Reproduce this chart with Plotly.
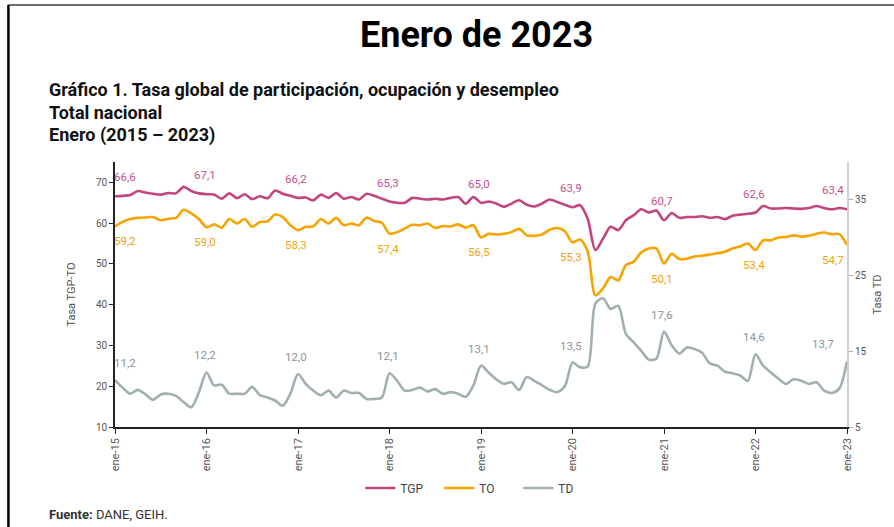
import plotly.graph_objects as go

# Tasa global de participación (TGP), ocupación (TO) y desempleo (TD), enero 2015 - enero 2023
tick_labels = ["ene-15", "ene-16", "ene-17", "ene-18", "ene-19",
               "ene-20", "ene-21", "ene-22", "ene-23"]

tgp = [66.6, 66.7, 66.9, 67.9, 67.5, 67.2, 67.0, 67.4, 67.3, 68.9, 67.9, 67.3,
       67.1, 67.0, 66.0, 67.3, 66.1, 67.1, 65.9, 66.6, 66.1, 68.0, 67.2, 66.7,
       66.2, 66.3, 65.6, 67.0, 66.2, 67.4, 66.0, 66.4, 65.8, 67.2, 66.7, 66.0,
       65.3, 65.0, 65.0, 66.2, 66.0, 65.8, 66.0, 65.8, 66.2, 66.4, 64.8, 66.4,
       65.0, 65.3, 64.8, 64.0, 64.8, 65.6, 64.5, 64.1, 64.8, 65.8, 65.2, 64.5,
       63.9, 64.4, 61.0, 53.4, 56.2, 59.1, 58.3, 60.7, 61.9, 63.4, 62.6, 63.1,
       60.7, 62.5, 61.3, 61.5, 61.5, 61.7, 61.3, 61.5, 61.0, 61.8, 62.1, 62.3,
       62.6, 64.2, 63.6, 63.6, 63.7, 63.6, 63.5, 63.7, 64.2, 63.7, 63.4, 63.7,
       63.4]

to = [59.2, 60.3, 61.0, 61.3, 61.4, 61.5, 60.7, 61.1, 61.3, 63.3, 62.4, 61.0,
      59.0, 59.7, 58.9, 61.0, 59.9, 61.0, 59.1, 60.3, 60.4, 62.1, 61.5, 59.5,
      58.3, 59.1, 59.2, 61.0, 59.9, 61.3, 59.5, 59.9, 59.5, 61.4, 60.5, 60.1,
      57.4, 57.8, 58.7, 59.6, 59.5, 59.9, 58.8, 59.3, 59.2, 59.7, 58.9, 59.5,
      56.5, 57.4, 57.2, 57.4, 57.8, 58.6, 57.0, 56.9, 57.2, 58.4, 58.8, 58.0,
      55.3, 56.0, 53.0, 42.3, 44.0, 46.8, 46.0, 49.7, 50.5, 52.8, 53.8, 53.8,
      50.1, 52.5, 51.2, 51.3, 51.8, 52.0, 52.3, 52.6, 53.0, 53.8, 54.3, 55.0,
      53.4, 55.8, 55.8, 56.5, 56.6, 57.0, 56.7, 56.9, 57.4, 57.7, 57.3, 57.3,
      54.7]

td = [11.2, 10.2, 9.4, 9.9, 9.3, 8.6, 9.3, 9.4, 9.1, 8.3, 7.6, 9.6,
      12.2, 10.5, 10.6, 9.4, 9.4, 9.4, 10.3, 9.2, 8.9, 8.5, 7.8, 9.4,
      12.0, 10.7, 9.8, 9.2, 9.8, 8.9, 9.8, 9.5, 9.5, 8.7, 8.7, 8.9,
      12.1, 11.1, 9.8, 9.9, 10.2, 9.7, 10.0, 9.4, 9.6, 9.4, 9.0, 10.5,
      13.1, 12.2, 11.3, 10.7, 10.9, 9.9, 11.6, 11.1, 10.5, 9.9, 9.6, 10.4,
      13.5, 12.9, 13.0, 21.3, 22.0, 20.6, 21.0, 17.3, 16.2, 15.1, 13.9, 14.0,
      17.6, 15.8, 14.7, 15.5, 15.3, 14.8, 13.4, 13.1, 12.3, 12.1, 11.8, 11.1,
      14.6, 13.1, 12.2, 11.4, 10.7, 11.3, 11.1, 10.7, 10.9, 9.8, 9.5, 10.1,
      13.7]

months = list(range(len(tgp)))
jan_idx = list(range(0, len(tgp), 12))

C_TGP = "#c2457f"
C_TO = "#f7a400"
C_TD = "#a0b1ac"
FONT = "Roboto, Arial, sans-serif"

fig = go.Figure()
for name, vals, color, axis in [("TGP", tgp, C_TGP, "y"),
                                ("TO", to, C_TO, "y"),
                                ("TD", td, C_TD, "y2")]:
    fig.add_trace(go.Scatter(
        x=months, y=vals, name=name, mode="lines", yaxis=axis,
        line=dict(color=color, width=2.6, shape="spline", smoothing=0.8),
    ))


def fmt(v):
    return f"{v:.1f}".replace(".", ",")


annotations = []
label_specs = [(tgp, "y", "#c4508a", "bottom", 10),
               (to, "y", "#f2a20c", "top", -6),
               (td, "y2", "#8b9599", "bottom", 8)]
for vals, yref, color, anchor, shift in label_specs:
    for k, i in enumerate(jan_idx):
        xs = 10 if k == 0 else (-14 if k == len(jan_idx) - 1 else -2)
        if vals is td and k == len(jan_idx) - 1:
            xs = -24
        annotations.append(dict(
            x=i, y=vals[i], xref="x", yref=yref, text=fmt(vals[i]),
            showarrow=False, yanchor=anchor, yshift=shift, xshift=xs,
            font=dict(family=FONT, size=11.5, color=color),
        ))

# page texts
annotations += [
    dict(x=0.494, y=1.479, xref="paper", yref="paper", text="<b>Enero de 2023</b>",
         showarrow=False, xanchor="center", yanchor="middle",
         font=dict(family=FONT, size=36, color="#000")),
    dict(x=-0.0925, y=1.2717, xref="paper", yref="paper",
         text="<b>Gráfico 1. Tasa global de participación, ocupación y desempleo</b>",
         showarrow=False, xanchor="left", yanchor="middle",
         font=dict(family=FONT, size=18, color="#111")),
    dict(x=-0.0925, y=1.185, xref="paper", yref="paper", text="<b>Total nacional</b>",
         showarrow=False, xanchor="left", yanchor="middle",
         font=dict(family=FONT, size=18, color="#111")),
    dict(x=-0.0925, y=1.1019, xref="paper", yref="paper", text="<b>Enero (2015 – 2023)</b>",
         showarrow=False, xanchor="left", yanchor="middle",
         font=dict(family=FONT, size=18, color="#111")),
    dict(x=-0.0925, y=-0.332, xref="paper", yref="paper",
         text="<b>Fuente:</b> DANE, GEIH.",
         showarrow=False, xanchor="left", yanchor="middle",
         font=dict(family=FONT, size=13, color="#333")),
]

fig.update_layout(
    width=894, height=527,
    margin=dict(l=115, r=44, t=162, b=100),
    paper_bgcolor="white", plot_bgcolor="white",
    font=dict(family=FONT, color="#555"),
    annotations=annotations,
    shapes=[
        dict(type="line", xref="paper", yref="paper", x0=-0.1456, x1=1.07,
             y0=1.5925, y1=1.5925, line=dict(color="#6e6e6e", width=2)),
        dict(type="line", xref="paper", yref="paper", x0=-0.1456, x1=-0.1456,
             y0=1.5925, y1=-0.4, line=dict(color="#000", width=2.5)),
    ],
    showlegend=True,
    legend=dict(orientation="h", x=0.497, y=-0.23, xanchor="center", yanchor="middle",
                font=dict(size=12, color="#444"), entrywidth=34, itemwidth=30),
    xaxis=dict(range=[0, len(tgp) - 1], tickvals=jan_idx, ticktext=tick_labels,
               tickangle=-90, showline=True, linecolor="#222", linewidth=1.5,
               ticks="outside", ticklen=5, tickcolor="#222", showgrid=False,
               zeroline=False, tickfont=dict(size=11, color="#555")),
    yaxis=dict(range=[10, 75], tickvals=[10, 20, 30, 40, 50, 60, 70],
               showline=True, linecolor="#222", linewidth=1.5, ticks="outside",
               ticklen=4, tickcolor="#222", showgrid=False, zeroline=False,
               tickfont=dict(size=10, color="#555"),
               title=dict(text="Tasa TGP-TO", standoff=18,
                          font=dict(size=11, color="#555"))),
    yaxis2=dict(range=[5, 40], tickvals=[5, 15, 25, 35], overlaying="y", side="right",
                showline=True, linecolor="#d0d0d0", linewidth=2, ticks="outside",
                ticklen=4, tickcolor="#aaa", showgrid=False, zeroline=False,
                tickfont=dict(size=10, color="#555"),
                title=dict(text="Tasa TD", standoff=8,
                           font=dict(size=11, color="#555"))),
)

# drop the default 8px body margin so the figure sits at the page origin
fig.write_html("out.html", config={"displayModeBar": False},
               post_script="document.body.style.margin = '0px';")
